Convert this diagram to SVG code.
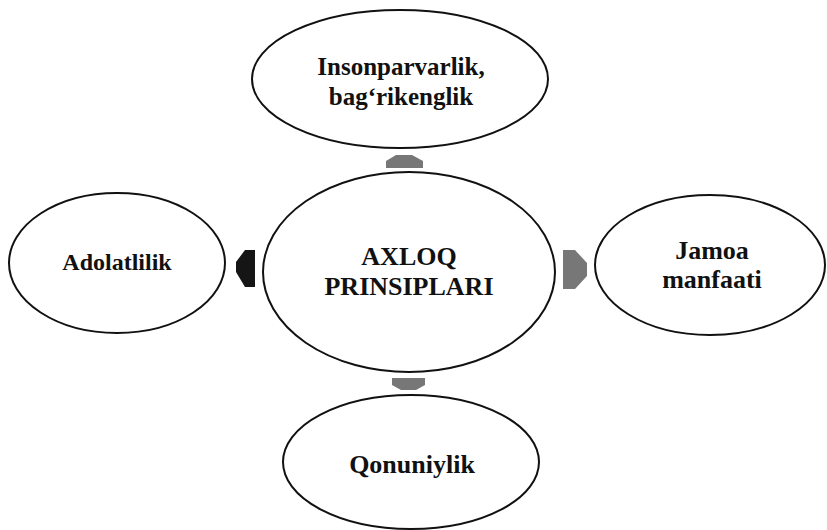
<svg xmlns="http://www.w3.org/2000/svg" width="827" height="530" viewBox="0 0 827 530">
<style>
.node ellipse{fill:none;stroke:#111;stroke-width:2}
.lbl{font-family:"Liberation Serif","Times New Roman",serif;font-weight:bold;font-size:26px;fill:#111;text-anchor:middle}
.arr{fill:#777;stroke:none}
.dark{fill:#151515}
</style>
<rect width="827" height="530" fill="#fff"/>
<g id="center" class="node">
<ellipse cx="409" cy="272" rx="146" ry="100"/>
<text class="lbl" x="409" y="265">AXLOQ</text>
<text class="lbl" x="409" y="295">PRINSIPLARI</text>
</g>
<g id="top" class="node">
<ellipse cx="400" cy="79" rx="148" ry="69"/>
<text class="lbl" x="401" y="75" style="font-size:25px">Insonparvarlik,</text>
<text class="lbl" x="401" y="105" style="font-size:25px">bag‘rikenglik</text>
</g>
<g id="left" class="node">
<ellipse cx="117" cy="263" rx="108" ry="70"/>
<text class="lbl" x="117" y="270" style="font-size:24px">Adolatlilik</text>
</g>
<g id="right" class="node">
<ellipse cx="710" cy="265" rx="115" ry="70"/>
<text class="lbl" x="712" y="259">Jamoa</text>
<text class="lbl" x="712" y="288">manfaati</text>
</g>
<g id="bottom" class="node">
<ellipse cx="411" cy="462" rx="128" ry="67"/>
<text class="lbl" x="412" y="473">Qonuniylik</text>
</g>
<g id="connectors">
<polygon class="arr" points="386,168 386,161 396,155 412,155 423,161 423,168"/>
<polygon class="arr" points="392,378 425,378 425,385 416,390 401,390 392,385"/>
<polygon class="arr dark" points="255,250 255,287 245,287 236,272 236,262 245,250"/>
<polygon class="arr" points="563,250 575,250 587,263 587,276 575,289 563,289"/>
</g>
</svg>
